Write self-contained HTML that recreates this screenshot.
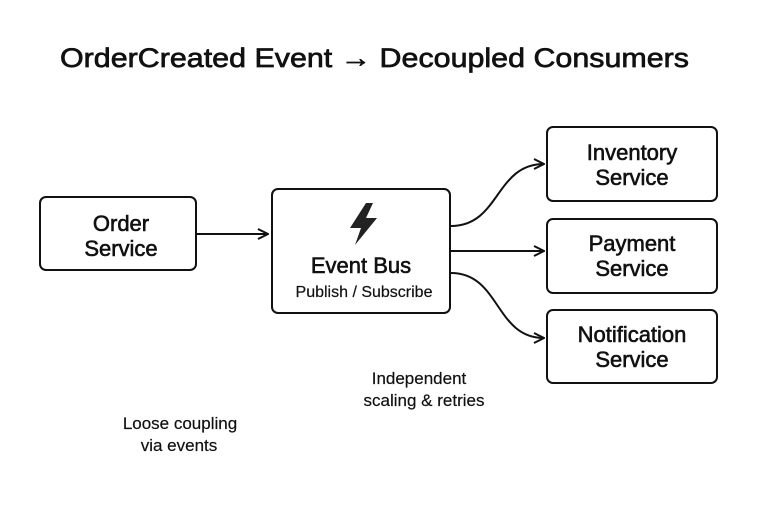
<!DOCTYPE html>
<html><head><meta charset="utf-8"><style>
html,body{margin:0;padding:0;background:#fff;}
svg{display:block;font-family:"Liberation Sans",sans-serif;}
</style></head><body>
<svg width="768" height="512" viewBox="0 0 768 512" xmlns="http://www.w3.org/2000/svg">
<defs>
<marker id="a" viewBox="0 0 12 12" refX="11" refY="6" markerWidth="12" markerHeight="12" markerUnits="userSpaceOnUse" orient="auto">
<path d="M1,1 L11,6 L1,11" fill="none" stroke="#111" stroke-width="2"/>
</marker>
</defs>
<text x="60" y="67" font-size="27" fill="#111" stroke="#111" stroke-width="0.7" textLength="629" lengthAdjust="spacingAndGlyphs">OrderCreated Event → Decoupled Consumers</text>
<g fill="none" stroke="#111" stroke-width="2">
<rect x="40" y="197" width="156" height="73" rx="6"/>
<rect x="272" y="189" width="178" height="124" rx="6"/>
<rect x="547" y="127" width="170" height="74" rx="6"/>
<rect x="547" y="219" width="170" height="74" rx="6"/>
<rect x="547" y="310" width="170" height="73" rx="6"/>
<path d="M197,234 L268,234" marker-end="url(#a)"/>
<path d="M451,226 C500,226 495,164 544,164" marker-end="url(#a)"/>
<path d="M451,251 L544,251" marker-end="url(#a)"/>
<path d="M451,273 C500,273 495,338 544,338" marker-end="url(#a)"/>
</g>
<path d="M366,203 L350,228 L361,228 L355,245 L377,218 L366,218 L373,203 Z" fill="#222"/>
<g fill="#111" stroke="#111" stroke-width="0.6" font-size="22" text-anchor="middle">
<text x="121" y="231">Order</text>
<text x="121" y="256">Service</text>
<text x="361" y="273">Event Bus</text>
<text x="632" y="160">Inventory</text>
<text x="632" y="185">Service</text>
<text x="632" y="251">Payment</text>
<text x="632" y="276">Service</text>
<text x="632" y="342">Notification</text>
<text x="632" y="367">Service</text>
</g>
<g fill="#111" stroke="#111" stroke-width="0.2" font-size="17" text-anchor="middle">
<text x="364" y="297" font-size="16">Publish / Subscribe</text>
<text x="419" y="384">Independent</text>
<text x="424" y="406">scaling &amp; retries</text>
<text x="180" y="429">Loose coupling</text>
<text x="179" y="451">via events</text>
</g>
</svg>
</body></html>
